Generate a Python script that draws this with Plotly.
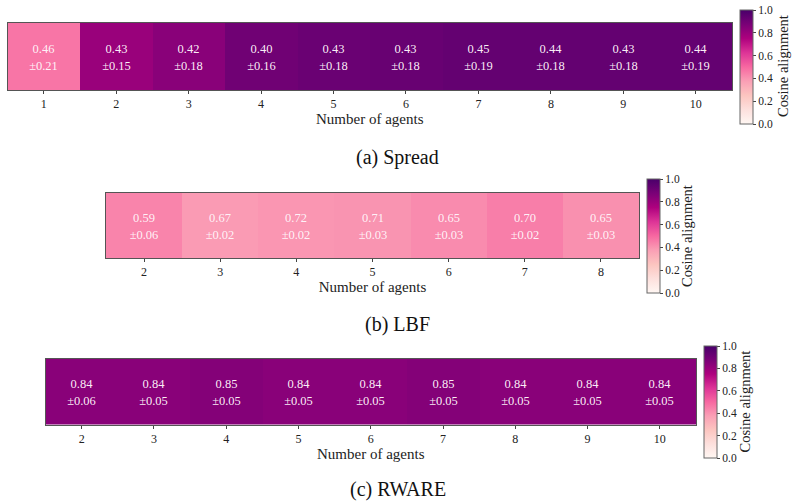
import plotly.graph_objects as go

# ---- data ----
spread_agents = [1, 2, 3, 4, 5, 6, 7, 8, 9, 10]
spread_mean = [0.46, 0.43, 0.42, 0.40, 0.43, 0.43, 0.45, 0.44, 0.43, 0.44]
spread_std = [0.21, 0.15, 0.18, 0.16, 0.18, 0.18, 0.19, 0.18, 0.18, 0.19]
spread_color = [0.47, 0.80, 0.84, 0.90, 0.915, 0.92, 0.93, 0.93, 0.93, 0.93]

lbf_agents = [2, 3, 4, 5, 6, 7, 8]
lbf_mean = [0.59, 0.67, 0.72, 0.71, 0.65, 0.70, 0.65]
lbf_std = [0.06, 0.02, 0.02, 0.03, 0.03, 0.02, 0.03]
lbf_color = [0.436, 0.384, 0.395, 0.40, 0.42, 0.45, 0.41]

rware_agents = [2, 3, 4, 5, 6, 7, 8, 9, 10]
rware_mean = [0.84, 0.84, 0.85, 0.84, 0.84, 0.85, 0.84, 0.84, 0.84]
rware_std = [0.06, 0.05, 0.05, 0.05, 0.05, 0.05, 0.05, 0.05, 0.05]
rware_color = [0.84, 0.84, 0.85, 0.84, 0.84, 0.85, 0.84, 0.84, 0.84]

captions = ["(a) Spread", "(b) LBF", "(c) RWARE"]
cbar_ticks = [0.0, 0.2, 0.4, 0.6, 0.8, 1.0]

W, H = 795, 504
FONT = "Liberation Serif"
RDPU = [[0.0, "#fff7f3"], [0.125, "#fde0dd"], [0.25, "#fcc5c0"], [0.375, "#fa9fb5"],
        [0.5, "#f768a1"], [0.625, "#dd3497"], [0.75, "#ae017e"], [0.875, "#7a0177"],
        [1.0, "#49006a"]]

def px_x(p):
    return p / W

def px_y(p):
    return 1 - p / H

# panel geometry in pixels
panels = [
    dict(agents=spread_agents, mean=spread_mean, std=spread_std, color=spread_color,
         box=(7.5, 732, 23, 90), cb=(739.5, 10, 124), cbt=(783, 66), cap=157),
    dict(agents=lbf_agents, mean=lbf_mean, std=lbf_std, color=lbf_color,
         box=(106, 639, 193, 258), cb=(646.5, 179, 293), cbt=(687, 236), cap=324),
    dict(agents=rware_agents, mean=rware_mean, std=rware_std, color=rware_color,
         box=(45.5, 696, 359, 424.5), cb=(703.5, 346, 458), cbt=(744.5, 402), cap=489),
]

fig = go.Figure()
layout = dict(
    width=W, height=H, margin=dict(l=0, r=0, t=0, b=0),
    paper_bgcolor="white", plot_bgcolor="white",
    font=dict(family=FONT, color="#222"),
    showlegend=False,
)
annotations = []
for i, p in enumerate(panels):
    n = i + 1
    sfx = "" if n == 1 else str(n)
    text = [[f"{m:.2f}<br>±{s:.2f}" for m, s in zip(p["mean"], p["std"])]]
    x0, x1, y0, y1 = p["box"]
    cbx, cbt, cbb = p["cb"]
    fig.add_trace(go.Heatmap(
        x=p["agents"], y=[0], z=[p["color"]], text=text,
        texttemplate="%{text}",
        textfont=dict(family=FONT, size=12.5, color="rgba(255,245,250,0.97)"),
        coloraxis=f"coloraxis{sfx}", xaxis=f"x{sfx}", yaxis=f"y{sfx}",
        hoverinfo="skip", xgap=0, ygap=0,
    ))
    layout[f"coloraxis{sfx}"] = dict(
        cmin=0, cmax=1, colorscale=RDPU,
        colorbar=dict(
            x=px_x(cbx), xanchor="left", y=px_y(cbt), yanchor="top",
            len=(cbb - cbt) / H, lenmode="fraction", thickness=13,
            xpad=0, ypad=0, outlinewidth=1, outlinecolor="#666",
            tickvals=cbar_ticks, ticktext=[f"{t:.1f}" for t in cbar_ticks],
            ticks="outside", ticklen=3, tickcolor="#444",
            tickfont=dict(family=FONT, size=11.5, color="#222"),
        ),
    )
    layout[f"xaxis{sfx}"] = dict(
        domain=[px_x(x0), px_x(x1)], anchor=f"y{sfx}",
        tickvals=p["agents"], ticktext=[str(a) for a in p["agents"]],
        range=[p["agents"][0] - 0.5, p["agents"][-1] + 0.5],
        ticks="outside", ticklen=3, tickcolor="#444",
        tickfont=dict(family=FONT, size=12, color="#222"),
        showline=True, mirror=True, linecolor="#555", linewidth=1,
        showgrid=False, zeroline=False,
        title=dict(text="Number of agents", standoff=2,
                   font=dict(family=FONT, size=15, color="#222")),
    )
    layout[f"yaxis{sfx}"] = dict(
        domain=[px_y(y1), px_y(y0)], anchor=f"x{sfx}",
        range=[-0.5, 0.5], showticklabels=False, ticks="",
        showline=True, mirror=True, linecolor="#555", linewidth=1,
        showgrid=False, zeroline=False,
    )
    tx, ty = p["cbt"]
    annotations.append(dict(
        text="Cosine alignment", x=px_x(tx), y=px_y(ty), xref="paper", yref="paper",
        xanchor="center", yanchor="middle", showarrow=False, textangle=-90,
        font=dict(family=FONT, size=14.5, color="#222"),
    ))
    annotations.append(dict(
        text=captions[i], x=0.5, y=px_y(p["cap"]), xref="paper", yref="paper",
        xanchor="center", yanchor="middle", showarrow=False,
        font=dict(family=FONT, size=20, color="#111"),
    ))

layout["annotations"] = annotations
fig.update_layout(**layout)
fig.write_html("out.html")
